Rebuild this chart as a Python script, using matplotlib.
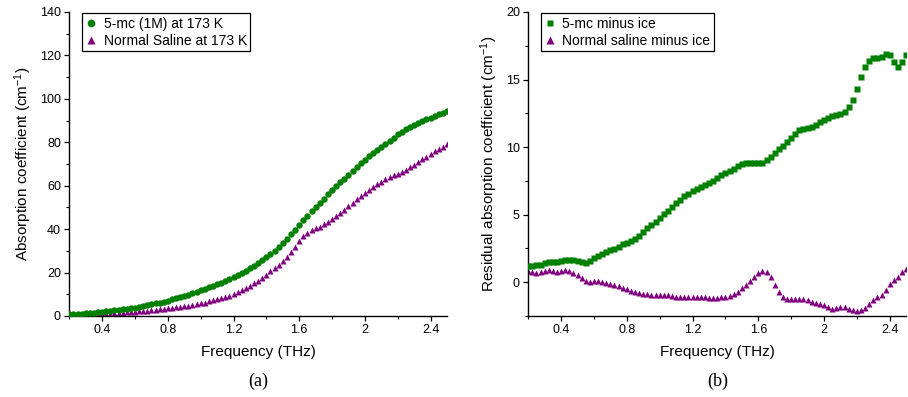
import numpy as np
import matplotlib
matplotlib.use("Agg")
import matplotlib.pyplot as plt
from matplotlib.ticker import MultipleLocator

plt.rcParams['font.family'] = ['Liberation Sans', 'DejaVu Sans']
plt.rcParams['mathtext.fontset'] = 'custom'
plt.rcParams['mathtext.rm'] = 'Liberation Sans'
plt.rcParams['mathtext.it'] = 'Liberation Sans:italic'

# frequency grid (THz)
freq = np.linspace(0.2, 2.5, 93)

# (a) absorption coefficient at 173 K
mc_173 = [
    0.8, 0.9, 1.0, 1.1, 1.3, 1.4, 1.6, 1.8, 2.0, 2.2,
    2.4, 2.6, 2.8, 3.0, 3.3, 3.5, 3.8, 4.2, 4.6, 5.0,
    5.4, 5.8, 6.2, 6.6, 7.1, 7.6, 8.2, 8.7, 9.3, 9.9,
    10.5, 11.1, 11.8, 12.5, 13.2, 13.9, 14.7, 15.4, 16.2, 17.0,
    17.8, 18.8, 19.8, 20.9, 22.0, 23.2, 24.5, 25.8, 27.2, 28.6,
    30.1, 31.7, 33.5, 35.5, 37.6, 39.7, 42.0, 44.1, 46.2, 48.2,
    50.2, 52.2, 54.1, 56.0, 57.9, 59.7, 61.5, 63.3, 65.1, 66.9,
    68.6, 70.3, 72.0, 73.5, 75.0, 76.5, 78.0, 79.4, 80.8, 82.2,
    83.6, 84.9, 86.0, 87.0, 87.9, 88.8, 89.7, 90.5, 91.4, 92.2,
    92.9, 93.5, 94.2,
]
saline_173 = [
    0.3, 0.35, 0.4, 0.5, 0.55, 0.6, 0.7, 0.8, 0.9, 1.0,
    1.1, 1.3, 1.4, 1.5, 1.7, 1.8, 2.0, 2.2, 2.4, 2.5,
    2.7, 2.9, 3.1, 3.3, 3.5, 3.7, 4.0, 4.2, 4.5, 4.8,
    5.1, 5.4, 5.8, 6.2, 6.7, 7.2, 7.7, 8.2, 8.8, 9.4,
    10.1, 10.9, 11.8, 12.8, 13.9, 15.0, 16.3, 17.6, 19.0, 20.5,
    22.0, 23.7, 25.4, 27.3, 29.5, 32.0, 34.6, 36.8, 38.4, 39.4,
    40.3, 41.2, 42.2, 43.3, 44.5, 45.9, 47.4, 49.0, 50.6, 52.2,
    53.8, 55.3, 56.8, 58.1, 59.4, 60.6, 61.8, 62.9, 63.9, 64.8,
    65.6, 66.4, 67.4, 68.5, 69.7, 70.9, 72.2, 73.4, 74.6, 75.8,
    76.9, 78.0, 79.0,
]

# (b) residual absorption coefficient (minus ice)
mc_res = [
    1.2, 1.22, 1.25, 1.3, 1.42, 1.52, 1.52, 1.5, 1.55, 1.64,
    1.68, 1.65, 1.58, 1.5, 1.45, 1.55, 1.78, 1.95, 2.1, 2.22,
    2.35, 2.48, 2.62, 2.8, 2.92, 3.05, 3.18, 3.45, 3.75, 4.0,
    4.2, 4.45, 4.75, 5.05, 5.3, 5.6, 5.9, 6.12, 6.35, 6.55,
    6.72, 6.9, 7.06, 7.22, 7.38, 7.52, 7.7, 7.9, 8.05, 8.22,
    8.4, 8.58, 8.74, 8.82, 8.85, 8.83, 8.8, 8.85, 9.05, 9.3,
    9.6, 9.85, 10.1, 10.35, 10.7, 11.0, 11.25, 11.35, 11.4, 11.5,
    11.65, 11.85, 12.0, 12.15, 12.27, 12.36, 12.45, 12.62, 12.95, 13.5,
    14.3, 15.2, 15.9, 16.4, 16.6, 16.62, 16.68, 16.9, 16.8, 16.3,
    15.95, 16.3, 16.8,
]
saline_res = [
    0.85, 0.78, 0.7, 0.74, 0.85, 0.9, 0.82, 0.74, 0.8, 0.9,
    0.85, 0.68, 0.5, 0.28, 0.12, 0.05, 0.06, 0.1, 0.05, -0.04,
    -0.12, -0.2, -0.3, -0.4, -0.5, -0.62, -0.72, -0.8, -0.84, -0.87,
    -0.92, -0.97, -0.98, -0.95, -0.96, -1.02, -1.07, -1.1, -1.12, -1.12,
    -1.1, -1.08, -1.1, -1.13, -1.15, -1.15, -1.14, -1.12, -1.08, -1.0,
    -0.88, -0.7, -0.45, -0.18, 0.1, 0.42, 0.7, 0.85, 0.75, 0.35,
    -0.2, -0.75, -1.1, -1.22, -1.24, -1.24, -1.23, -1.27, -1.35, -1.45,
    -1.52, -1.62, -1.72, -1.82, -1.95, -1.92, -1.8, -1.85, -2.0, -2.08,
    -2.12, -2.05, -1.88, -1.6, -1.32, -1.12, -0.92, -0.6, -0.15, 0.2,
    0.35, 0.72, 0.95,
]

green = '#008000'
purple = '#800080'

fig = plt.figure(figsize=(9.08, 3.97), dpi=100)
ax1 = fig.add_axes([69.3 / 908, 81 / 397, 377.7 / 908, 304 / 397])
ax2 = fig.add_axes([528.2 / 908, 81 / 397, 378 / 908, 304 / 397])


def style_axis(ax):
    ax.spines['top'].set_visible(False)
    ax.spines['right'].set_visible(False)
    ax.spines['left'].set_linewidth(1.0)
    ax.spines['bottom'].set_linewidth(1.0)
    ax.tick_params(which='major', direction='out', length=3.5, width=0.9,
                   labelsize=9, pad=2.5)
    ax.tick_params(which='minor', direction='out', length=2, width=0.8)
    ax.set_xlim(0.2, 2.5)
    ax.xaxis.set_major_locator(MultipleLocator(0.4))
    ax.xaxis.set_minor_locator(MultipleLocator(0.2))
    ax.set_xticks([0.4, 0.8, 1.2, 1.6, 2.0, 2.4])
    ax.set_xticklabels(['0.4', '0.8', '1.2', '1.6', '2', '2.4'])
    ax.set_xlabel('Frequency (THz)', fontsize=11, labelpad=6)


def add_legend(ax):
    leg = ax.legend(loc='upper left', bbox_to_anchor=(0.03, 1.0), fontsize=10,
                    numpoints=1, handlelength=0.8, handletextpad=0.5,
                    borderpad=0.25, labelspacing=0.2, borderaxespad=0.1,
                    fancybox=False, edgecolor='black', framealpha=1,
                    markerscale=1.2)
    leg.get_frame().set_linewidth(0.9)


# (a)
ax1.plot(freq, mc_173, 'o', color=green, ms=4.6, mec='none',
         label='5-mc (1M) at 173 K', zorder=3)
ax1.plot(freq, saline_173, '^', color=purple, ms=5.0, mec='none',
         label='Normal Saline at 173 K', zorder=2)
style_axis(ax1)
ax1.set_ylim(0, 140)
ax1.yaxis.set_major_locator(MultipleLocator(20))
ax1.yaxis.set_minor_locator(MultipleLocator(10))
ax1.set_ylabel('Absorption coefficient (cm$^{-1}$)', fontsize=11, labelpad=4)
add_legend(ax1)

# (b)
ax2.plot(freq, mc_res, 's', color=green, ms=3.7, mec='none',
         label='5-mc minus ice', zorder=3)
ax2.plot(freq, saline_res, '^', color=purple, ms=4.6, mec='none',
         label='Normal saline minus ice', zorder=2)
style_axis(ax2)
ax2.set_ylim(-2.5, 20)
ax2.yaxis.set_major_locator(MultipleLocator(5))
ax2.yaxis.set_minor_locator(MultipleLocator(2.5))
ax2.set_ylabel('Residual absorption coefficient (cm$^{-1}$)', fontsize=11,
               labelpad=4)
add_legend(ax2)

fig.text(258 / 908, 1 - 381 / 397, '(a)', ha='center', va='center',
         fontsize=13, family='Liberation Serif')
fig.text(718 / 908, 1 - 381 / 397, '(b)', ha='center', va='center',
         fontsize=13, family='Liberation Serif')

fig.savefig('out.png', dpi=100)
